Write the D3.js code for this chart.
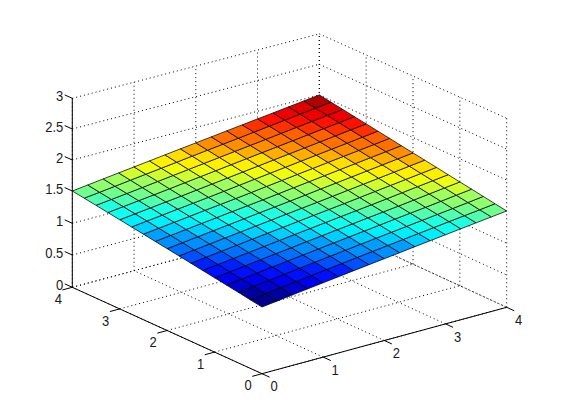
<!DOCTYPE html>
<html>
<head>
<meta charset="utf-8">
<script src="https://cdn.jsdelivr.net/npm/d3@7/dist/d3.min.js"></script>
<style>html,body{margin:0;padding:0;background:#fff}svg{display:block}text{font-family:"Liberation Sans",Arial,sans-serif;font-size:13px;fill:#1a1a1a}</style>
</head>
<body>
<svg id="chart" width="561" height="420"></svg>
<script>
const xValues = [0,0.25,0.5,0.75,1,1.25,1.5,1.75,2,2.25,2.5,2.75,3,3.25,3.5,3.75,4];
const yValues = [0,0.25,0.5,0.75,1,1.25,1.5,1.75,2,2.25,2.5,2.75,3,3.25,3.5,3.75,4];
const zGrid = [
[1.000,1.031,1.063,1.094,1.125,1.156,1.188,1.219,1.250,1.281,1.313,1.344,1.375,1.406,1.438,1.469,1.500],
[1.031,1.063,1.094,1.125,1.156,1.188,1.219,1.250,1.281,1.313,1.344,1.375,1.406,1.438,1.469,1.500,1.531],
[1.063,1.094,1.125,1.156,1.188,1.219,1.250,1.281,1.313,1.344,1.375,1.406,1.438,1.469,1.500,1.531,1.563],
[1.094,1.125,1.156,1.188,1.219,1.250,1.281,1.313,1.344,1.375,1.406,1.438,1.469,1.500,1.531,1.563,1.594],
[1.125,1.156,1.188,1.219,1.250,1.281,1.313,1.344,1.375,1.406,1.438,1.469,1.500,1.531,1.563,1.594,1.625],
[1.156,1.188,1.219,1.250,1.281,1.313,1.344,1.375,1.406,1.438,1.469,1.500,1.531,1.563,1.594,1.625,1.656],
[1.188,1.219,1.250,1.281,1.313,1.344,1.375,1.406,1.438,1.469,1.500,1.531,1.563,1.594,1.625,1.656,1.688],
[1.219,1.250,1.281,1.313,1.344,1.375,1.406,1.438,1.469,1.500,1.531,1.563,1.594,1.625,1.656,1.688,1.719],
[1.250,1.281,1.313,1.344,1.375,1.406,1.438,1.469,1.500,1.531,1.563,1.594,1.625,1.656,1.688,1.719,1.750],
[1.281,1.313,1.344,1.375,1.406,1.438,1.469,1.500,1.531,1.563,1.594,1.625,1.656,1.688,1.719,1.750,1.781],
[1.313,1.344,1.375,1.406,1.438,1.469,1.500,1.531,1.563,1.594,1.625,1.656,1.688,1.719,1.750,1.781,1.813],
[1.344,1.375,1.406,1.438,1.469,1.500,1.531,1.563,1.594,1.625,1.656,1.688,1.719,1.750,1.781,1.813,1.844],
[1.375,1.406,1.438,1.469,1.500,1.531,1.563,1.594,1.625,1.656,1.688,1.719,1.750,1.781,1.813,1.844,1.875],
[1.406,1.438,1.469,1.500,1.531,1.563,1.594,1.625,1.656,1.688,1.719,1.750,1.781,1.813,1.844,1.875,1.906],
[1.438,1.469,1.500,1.531,1.563,1.594,1.625,1.656,1.688,1.719,1.750,1.781,1.813,1.844,1.875,1.906,1.938],
[1.469,1.500,1.531,1.563,1.594,1.625,1.656,1.688,1.719,1.750,1.781,1.813,1.844,1.875,1.906,1.938,1.969],
[1.500,1.531,1.563,1.594,1.625,1.656,1.688,1.719,1.750,1.781,1.813,1.844,1.875,1.906,1.938,1.969,2.000]
];
const xTicks = [0,1,2,3,4];
const yTicks = [0,1,2,3,4];
const zTicks = [0,0.5,1,1.5,2,2.5,3];
const zTickLabels = ["0","0.5","1","1.5","2","2.5","3"];

const svg = d3.select("#chart");
// Floor corners in pixels; bilinear map reproduces the slight perspective of the original view.
const floor = {o:[262,373.7], x:[506.7,307.3], y:[72.3,287.3], b:[319.3,221]};
const u = d3.scaleLinear().domain([0,4]).range([0,1]);
const v = d3.scaleLinear().domain([0,4]).range([0,1]);
const zScale = d3.scaleLinear().domain(zTicks).range([0,32.3,64,96.3,127.3,158.3,189]);
const depthScale = d3.scaleLinear().domain([0,1,2]).range([1.042,1,0.99]);
function P(x,y,z){
  const a=u(x), b=v(y);
  const px = (1-a)*(1-b)*floor.o[0]+a*(1-b)*floor.x[0]+(1-a)*b*floor.y[0]+a*b*floor.b[0];
  const py = (1-a)*(1-b)*floor.o[1]+a*(1-b)*floor.x[1]+(1-a)*b*floor.y[1]+a*b*floor.b[1];
  return [px, py-zScale(z)*depthScale(a+b)];
}
const jet = d3.scaleLinear()
  .domain([0,0.125,0.375,0.625,0.875,1])
  .range(["#000080","#0000ff","#00ffff","#ffff00","#ff0000","#800000"])
  .interpolate(d3.interpolateRgb).clamp(true);
const colorOf = val => jet((Math.floor((val-1)*64+1e-6)+1)/64);

const seg = (g,a,b,cls)=>g.append("line").attr("x1",a[0]).attr("y1",a[1]).attr("x2",b[0]).attr("y2",b[1]).attr("class",cls);

const grid = svg.append("g").attr("stroke","#000").attr("stroke-width",1).attr("stroke-dasharray","1 3").attr("fill","none");
const xMax = d3.max(xTicks), yMax = d3.max(yTicks), zMax = d3.max(zTicks);
xTicks.forEach(t=>{
  seg(grid,P(t,0,0),P(t,yMax,0),"grid");
  seg(grid,P(t,yMax,0),P(t,yMax,zMax),"grid");
});
yTicks.forEach(t=>{
  seg(grid,P(0,t,0),P(xMax,t,0),"grid");
  seg(grid,P(xMax,t,0),P(xMax,t,zMax),"grid");
});
zTicks.forEach(t=>{
  seg(grid,P(0,yMax,t),P(xMax,yMax,t),"grid");
  seg(grid,P(xMax,yMax,t),P(xMax,0,t),"grid");
});

const axes = svg.append("g").attr("stroke","#000").attr("stroke-width",1).attr("fill","none");
seg(axes,P(0,0,0),P(xMax,0,0),"axis");
seg(axes,P(0,0,0),P(0,yMax,0),"axis");
seg(axes,P(0,yMax,0),P(0,yMax,zMax),"axis");
const tickLen = 0.16;
xTicks.forEach(t=>{ seg(axes,P(t,0,0),P(t,-tickLen,0),"tick"); });
yTicks.forEach(t=>{ seg(axes,P(0,t,0),P(-tickLen,t,0),"tick"); });
zTicks.forEach(t=>{ seg(axes,P(0,yMax,t),P(0,yMax+tickLen,t),"tick"); });

const cells = [];
for(let i=0;i<yValues.length-1;i++) for(let j=0;j<xValues.length-1;j++) cells.push({i,j});
svg.append("g").selectAll("polygon").data(cells).join("polygon")
  .attr("points",d=>[
    P(xValues[d.j],yValues[d.i],zGrid[d.i][d.j]),
    P(xValues[d.j+1],yValues[d.i],zGrid[d.i][d.j+1]),
    P(xValues[d.j+1],yValues[d.i+1],zGrid[d.i+1][d.j+1]),
    P(xValues[d.j],yValues[d.i+1],zGrid[d.i+1][d.j])
  ].map(p=>p.join(",")).join(" "))
  .attr("fill",d=>colorOf(zGrid[d.i][d.j]))
  .attr("stroke","#000").attr("stroke-width",0.75).attr("stroke-linejoin","round");

const labels = svg.append("g");
const place = (x,y)=>`translate(${x},${y}) scale(1,1.08)`;
labels.selectAll(".xl").data(xTicks).join("text").attr("class","xl")
  .attr("text-anchor","middle").attr("dominant-baseline","central")
  .attr("transform",d=>place(P(d,0,0)[0]+12,P(d,0,0)[1]+13)).text(d=>d);
labels.selectAll(".yl").data(yTicks).join("text").attr("class","yl")
  .attr("text-anchor","middle").attr("dominant-baseline","central")
  .attr("transform",d=>place(P(0,d,0)[0]-14,P(0,d,0)[1]+12)).text(d=>d);
labels.selectAll(".zl").data(zTicks).join("text").attr("class","zl")
  .attr("text-anchor","end").attr("dominant-baseline","central")
  .attr("transform",d=>place(P(0,yMax,d)[0]-9,P(0,yMax,d)[1]-1.8)).text((d,i)=>zTickLabels[i]);
</script>
</body>
</html>
